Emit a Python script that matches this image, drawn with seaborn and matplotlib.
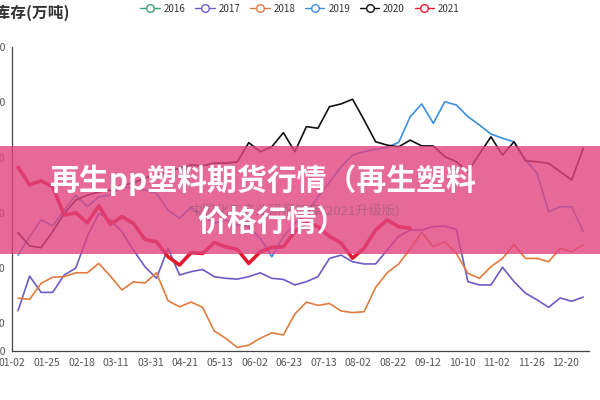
import matplotlib
matplotlib.use("Agg")
import matplotlib.pyplot as plt
from matplotlib.lines import Line2D
from matplotlib.patches import Rectangle
import seaborn as sns

# x axis labels (one every 3 weeks) and legend years
date_labels = ["01-02", "01-25", "02-18", "03-11", "03-31", "04-21", "05-13", "06-02", "06-23",
               "07-13", "08-02", "08-22", "09-12", "10-10", "11-02", "11-26", "12-20"]
years = ["2016", "2017", "2018", "2019", "2020", "2021"]
colors = ["#3ba272", "#6a5cc6", "#e27b3e", "#3a8fe3", "#111111", "#e3192d"]

# weekly inventory per year (2016 has no visible line)
inv_2017 = [24.6, 37.1, 31.2, 31.2, 37.5, 40.0, 51.4, 59.8, 57.4, 53.2, 46.5, 40.5, 36.3, 47.2, 37.5,
            38.7, 39.5, 36.9, 36.3, 36.0, 36.9, 38.3, 36.3, 35.9, 33.9, 35.1, 36.9, 43.5, 44.7, 42.3,
            41.5, 41.5, 46.5, 51.5, 53.8, 53.8, 55.0, 55.2, 54.0, 35.1, 33.9, 33.9, 40.3, 35.1, 30.9,
            28.5, 25.8, 29.2, 28.0, 29.5]
inv_2018 = [29.1, 28.7, 34.5, 36.7, 36.9, 38.3, 38.3, 41.7, 37.1, 32.1, 35.0, 34.6, 38.3, 28.2, 26.0,
            27.7, 25.8, 17.3, 14.6, 11.3, 12.1, 14.6, 16.6, 15.8, 23.4, 27.7, 26.5, 27.2, 24.5, 23.9,
            24.2, 33.0, 38.3, 41.5, 47.0, 53.0, 47.7, 49.5, 45.3, 38.1, 36.3, 40.5, 43.5, 48.5, 43.5,
            43.5, 42.3, 47.2, 45.9, 48.4]
inv_2019 = [44.7, 51.4, 57.4, 55.3, 61.0, 66.4, 62.2, 65.8, 66.4, 69.4, 68.9, 68.2, 67.0, 61.0, 58.0,
            62.0, 58.8, 56.2, 57.4, 55.6, 55.0, 50.8, 44.1, 51.4, 56.2, 59.8, 65.8, 71.0, 76.7, 80.9,
            82.1, 83.0, 83.7, 85.5, 94.8, 99.4, 92.4, 100.2, 99.0, 94.8, 91.8, 88.5, 87.0, 85.7, 79.1,
            74.3, 60.4, 62.2, 62.2, 53.2]
inv_2020 = [52.8, 48.0, 47.4, 53.2, 59.8, 64.6, 66.4, 67.5, 68.2, 70.0, 70.8, 72.6, 73.7, 74.8, 76.2,
            77.3, 77.0, 78.0, 78.0, 78.4, 85.4, 82.1, 83.9, 89.0, 82.1, 91.2, 90.6, 98.4, 99.4, 101.1,
            93.6, 85.7, 84.5, 83.9, 86.3, 84.2, 84.2, 80.3, 78.5, 74.8, 81.3, 87.5, 80.9, 85.7, 78.8,
            78.5, 77.9, 74.9, 71.9, 83.3]
inv_2021 = [76.5, 70.1, 71.6, 69.4, 59.2, 60.0, 56.4, 62.5, 55.8, 58.6, 56.2, 50.4, 49.5, 44.1, 41.1,
            45.6, 45.3, 49.2, 47.7, 46.8, 41.7, 45.9, 47.5, 47.7, 53.2, 56.5, 55.0, 51.5, 49.1, 43.6,
            47.2, 53.8, 57.4, 55.0, 54.4]

series = {"2017": inv_2017, "2018": inv_2018, "2019": inv_2019, "2020": inv_2020, "2021": inv_2021}

sns.set_style("white")
plt.rcParams['font.family'] = ['Noto Sans CJK SC', 'DejaVu Sans']

fig = plt.figure(figsize=(6, 4), dpi=100)
ax = fig.add_axes([12.3 / 600, 49 / 400, 576.7 / 600, 304 / 400])

for year, vals in series.items():
    c = colors[years.index(year)]
    lw = 2.6 if year == "2021" else 1.2
    sns.lineplot(x=list(range(len(vals))), y=vals, color=c, linewidth=lw, ax=ax)

ax.set_xlim(-0.5, 49.5)
ax.set_ylim(10, 120)
ax.set_xticks([3 * k - 0.5 for k in range(len(date_labels))])
ax.set_xticklabels(date_labels)
ax.set_yticks([10, 20, 40, 60, 80, 100, 120])
ax.set_xlabel("")
ax.set_ylabel("")
for s in ["top", "right"]:
    ax.spines[s].set_visible(False)
for s in ["left", "bottom"]:
    ax.spines[s].set_color("#444444")
    ax.spines[s].set_linewidth(0.9)
ax.tick_params(axis="both", length=3, width=0.9, color="#444444", labelsize=7.5,
               labelcolor="#555555", pad=2)

fig.text(70 / 600, 1 - 13 / 400, "社会库存(万吨)", ha="right", va="center",
         fontsize=11.3, fontweight="bold", color="#333333")

handles = [Line2D([], [], color=c, lw=1, marker="o", markersize=5.5,
                  markerfacecolor="white", markeredgewidth=1) for c in colors]
fig.legend(handles, years, loc="center", bbox_to_anchor=(0.5, 1 - 8.5 / 400), ncol=6,
           frameon=False, fontsize=7, handlelength=2.0, handletextpad=0.4,
           columnspacing=1.0, labelcolor="#333333")

# pink title banner over the chart
fig.add_artist(Rectangle((0, (400 - 254) / 400), 1, 108 / 400, transform=fig.transFigure,
                         facecolor="#e0447f", edgecolor="none", alpha=0.8, zorder=5))
fig.text(400 / 600, 1 - 211 / 400, "中国化工产业研报智库(2021升级版)", ha="right", va="center",
         fontsize=9.5, color="#7a5a68", alpha=0.45, zorder=6)
fig.text(263 / 600, 1 - 180 / 400, "再生pp塑料期货行情（再生塑料", ha="center", va="center",
         fontsize=21.5, fontweight="bold", color="white", zorder=7)
fig.text(272 / 600, 1 - 222 / 400, "价格行情）", ha="center", va="center",
         fontsize=21.5, fontweight="bold", color="white", zorder=7)

fig.savefig("out.png", dpi=100)
